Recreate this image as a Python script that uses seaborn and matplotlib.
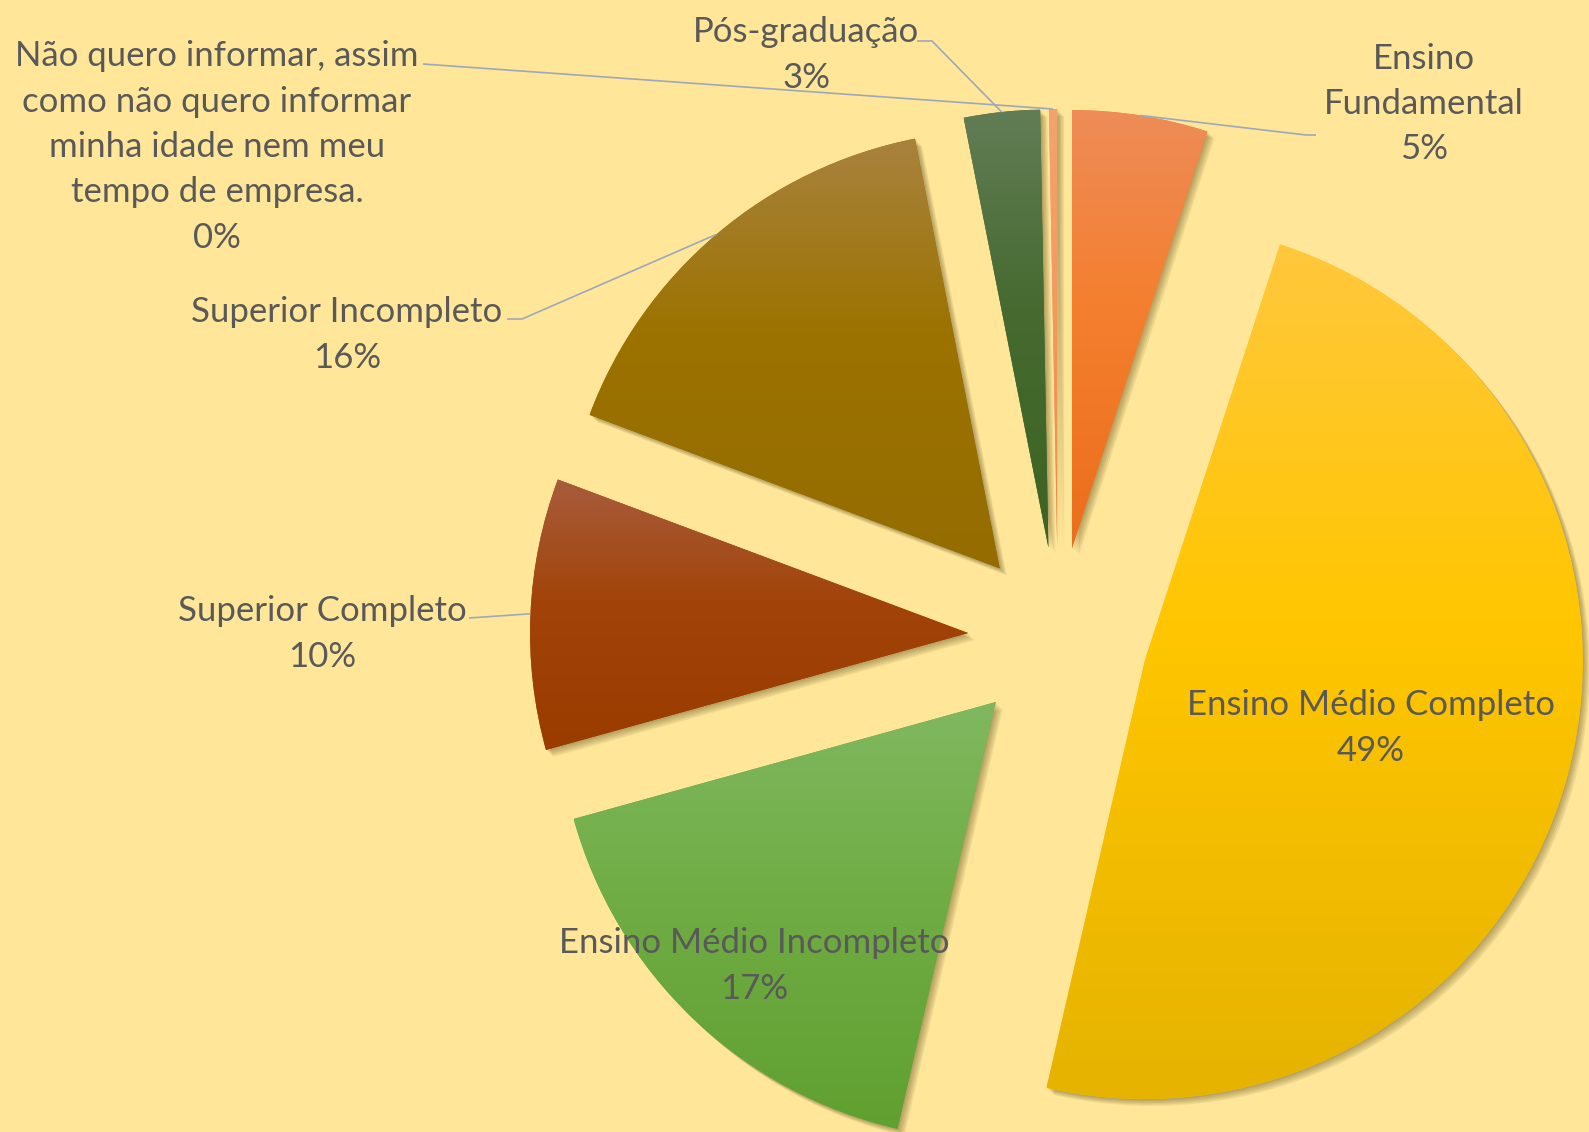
"""
Pizza explodida: escolaridade dos colaboradores (réplica do gráfico do Excel).
Cada fatia recebe um degradê vertical (claro em cima, escuro embaixo).
"""
import numpy as np
import matplotlib
matplotlib.use('Agg')
import matplotlib.pyplot as plt
import matplotlib.patheffects as pe
from matplotlib.colors import LinearSegmentedColormap
import seaborn as sns

sns.set_theme(style='white')
plt.rcParams['font.family'] = ['Lato', 'DejaVu Sans']

# ---- dados -------------------------------------------------------------
CATEGORIAS = ['Ensino Fundamental', 'Ensino Médio Completo', 'Ensino Médio Incompleto',
              'Superior Completo', 'Superior Incompleto', 'Pós-graduação',
              'Não quero informar, assim como não quero informar minha idade nem meu tempo de empresa.']
PERCENTUAIS = [5.0, 48.6, 17.1, 10.0, 16.2, 2.8, 0.3]
ROTULOS = ['Ensino\nFundamental', 'Ensino Médio Completo', 'Ensino Médio Incompleto',
           'Superior Completo', 'Superior Incompleto', 'Pós-graduação',
           'Não quero informar, assim\ncomo não quero informar\nminha idade nem meu\ntempo de empresa.']

# cores (topo -> meio -> base) de cada fatia
COR_TOPO = ['#EE8C58', '#FFC83C', '#80B860', '#A85C3C', '#A8823F', '#627D55', '#F2A46E']
COR_MEIO = ['#F47F2E', '#FFC600', '#70AD45', '#A2440A', '#9C7300', '#466A30', '#F29A60']
COR_BASE = ['#EB6E1C', '#E5B300', '#60A030', '#9A3C00', '#946C00', '#3C6423', '#EE8A48']

# ---- layout (em pixels da figura, y de cima para baixo) ----------------
W, H = 1589, 1132
FUNDO = '#FFE699'
COR_TEXTO = '#595959'
COR_LINHA = '#9EA8BA'
CENTRO = (1058, H - 637)
RAIO = 438
EXPLODE = 90  # deslocamento de cada fatia, em pixels

# centro de cada rótulo
POS_ROTULOS = [(1424, 104), (1371, 728), (754, 966), (322, 634), (347, 335), (806, 55), (217, 147)]
# pontos de ligação das linhas guia (do lado do rótulo); None = sem linha
GUIAS = [[(1306, 135), (1316, 135)],
         None,
         None,
         [(469, 618)],
         [(522, 319), (507, 319)],
         [(932, 41), (917, 41)],
         [(423, 64)]]


def py(y):
    return H - y


fig = plt.figure(figsize=(W / 100, H / 100), dpi=100, facecolor=FUNDO)
ax = fig.add_axes([0, 0, 1, 1])
ax.set_facecolor(FUNDO)

wedges, _ = ax.pie(PERCENTUAIS, explode=[EXPLODE] * len(PERCENTUAIS), startangle=90,
                   counterclock=False, center=CENTRO, radius=RAIO, colors=COR_MEIO,
                   wedgeprops=dict(linewidth=0))

# sombra suave: várias sombras deslocadas com pouca opacidade
sombra = [pe.SimplePatchShadow(offset=(k, -k), shadow_rgbFace='#4a3c10', alpha=0.09)
          for k in (1, 2, 3, 4, 5)]

grad = np.linspace(0, 1, 256).reshape(-1, 1)
for w, c0, cm, c1 in zip(wedges, COR_TOPO, COR_MEIO, COR_BASE):
    w.set_path_effects(sombra + [pe.Normal()])
    bb = w.get_path().get_extents()
    cmap = LinearSegmentedColormap.from_list('g', [(0, c0), (0.45, cm), (1, c1)])
    im = ax.imshow(grad, cmap=cmap, extent=(bb.x0, bb.x1, bb.y0, bb.y1), origin='upper',
                   aspect='auto', interpolation='bilinear', zorder=w.get_zorder() + 0.1)
    im.set_clip_path(w)

# rótulos e linhas guia
for w, rot, pct, (tx, ty), guia in zip(wedges, ROTULOS, PERCENTUAIS, POS_ROTULOS, GUIAS):
    ax.text(tx, py(ty), f'{rot}\n{pct:.0f}%', ha='center', va='center', multialignment='center',
            fontsize=25, color=COR_TEXTO, linespacing=1.51, zorder=10)
    if guia is None:
        continue
    meio = np.deg2rad((w.theta1 + w.theta2) / 2)
    ancora = (w.center[0] + w.r * np.cos(meio), w.center[1] + w.r * np.sin(meio))
    xs = [ancora[0]] + [p[0] for p in guia]
    ys = [ancora[1]] + [py(p[1]) for p in guia]
    ax.plot(xs, ys, color=COR_LINHA, lw=1.2, zorder=9, solid_capstyle='butt')

ax.set_xlim(0, W)
ax.set_ylim(0, H)
ax.set_aspect('equal')
ax.axis('off')

fig.savefig('out.png', dpi=100, facecolor=FUNDO)
